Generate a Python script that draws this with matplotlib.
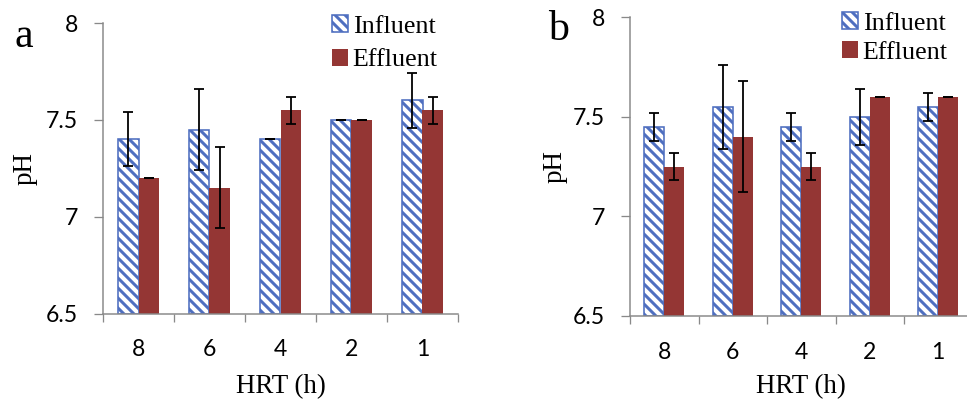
import matplotlib
matplotlib.use("Agg")
import matplotlib.pyplot as plt
import numpy as np

# ---- data ----
hrt = ["8", "6", "4", "2", "1"]
a_inf = [7.40, 7.45, 7.40, 7.50, 7.60]
a_inf_err = [0.14, 0.21, 0.0, 0.0, 0.14]
a_eff = [7.20, 7.15, 7.55, 7.50, 7.55]
a_eff_err = [0.0, 0.21, 0.07, 0.0, 0.07]
b_inf = [7.45, 7.55, 7.45, 7.50, 7.55]
b_inf_err = [0.07, 0.21, 0.07, 0.14, 0.07]
b_eff = [7.25, 7.40, 7.25, 7.60, 7.60]
b_eff_err = [0.07, 0.28, 0.07, 0.0, 0.0]
yticks = [6.5, 7, 7.5, 8]
ytick_labels = ["6.5", "7", "7.5", "8"]

DPI = 120
W, H = 967, 401
def pt(px):
    return px * 72.0 / DPI

plt.rcParams['hatch.linewidth'] = pt(3.0)

INF_C = "#4F6FC0"
EFF_C = "#943634"
AX_C = "#898989"
SERIF = ["Liberation Serif", "DejaVu Serif"]
SANS = ["Lato", "DejaVu Sans"]

fig = plt.figure(figsize=(W / DPI, H / DPI), dpi=DPI)

def make_panel(left, right, top, bottom, inf, inf_err, eff, eff_err,
               letter, letter_xy, xlab_y, leg_xy, leg_space):
    ax = fig.add_axes([left / W, (H - bottom) / H, (right - left) / W, (bottom - top) / H])
    n = len(hrt)
    centers = np.arange(n) + 0.5
    w = 0.29
    ax.bar(centers - w / 2, np.array(inf) - 6.5, width=w, bottom=6.5,
           facecolor="white", edgecolor=INF_C, hatch="\\\\\\\\", linewidth=pt(1.6),
           label="Influent", zorder=2)
    ax.bar(centers + w / 2, np.array(eff) - 6.5, width=w, bottom=6.5,
           facecolor=EFF_C, edgecolor=EFF_C, linewidth=0,
           label="Effluent", zorder=2)
    ekw = dict(fmt="none", ecolor="black", elinewidth=pt(1.8), capsize=pt(5),
               capthick=pt(1.8), zorder=3)
    ax.errorbar(centers - w / 2, inf, yerr=inf_err, **ekw)
    ax.errorbar(centers + w / 2, eff, yerr=eff_err, **ekw)

    ax.set_xlim(0, n)
    ax.set_ylim(6.5, 8)
    ax.set_yticks(yticks)
    ax.set_yticklabels(ytick_labels, fontfamily=SANS, fontsize=pt(23))
    ax.set_xticks(np.arange(n + 1))
    ax.set_xticklabels([])
    ax.set_xticks(centers, minor=True)
    ax.set_xticklabels(hrt, minor=True, fontfamily=SANS, fontsize=pt(23))
    ax.tick_params(axis="y", direction="out", length=pt(9), width=pt(1.3),
                   color=AX_C, pad=pt(16))
    ax.tick_params(axis="x", which="major", direction="out", length=pt(8),
                   width=pt(1.3), color=AX_C)
    ax.tick_params(axis="x", which="minor", length=0, pad=pt(26))
    for s in ["top", "right"]:
        ax.spines[s].set_visible(False)
    for s in ["left", "bottom"]:
        ax.spines[s].set_color(AX_C)
        ax.spines[s].set_linewidth(pt(1.5))

    ax.set_ylabel("pH", fontfamily=SERIF, fontsize=pt(27))
    ax.yaxis.label.set_va("center")
    ax.yaxis.set_label_coords(-0.22, 0.5)
    ax.set_xlabel("HRT (h)", fontfamily=SERIF, fontsize=pt(27))
    ax.xaxis.label.set_va("center")
    ax.xaxis.set_label_coords(0.5, xlab_y)

    ax.legend(loc="upper left", bbox_to_anchor=(leg_xy[0] / W, 1 - leg_xy[1] / H),
              bbox_transform=fig.transFigure, frameon=False,
              prop={"family": SERIF, "size": pt(26)},
              handlelength=0.62, handleheight=0.62, handletextpad=0.18,
              labelspacing=leg_space, borderpad=0, borderaxespad=0)
    fig.text(letter_xy[0] / W, 1 - letter_xy[1] / H, letter, fontfamily=SERIF,
             fontsize=pt(42), ha="left", va="baseline")
    return ax

make_panel(103, 458, 23, 313.5, a_inf, a_inf_err, a_eff, a_eff_err,
           "a", (15, 47), -0.25, (332, 15), 0.43)
make_panel(630, 972.5, 17, 316, b_inf, b_inf_err, b_eff, b_eff_err,
           "b", (548, 40), -0.237, (842, 12), 0.25)

fig.savefig("out.png", dpi=DPI)
